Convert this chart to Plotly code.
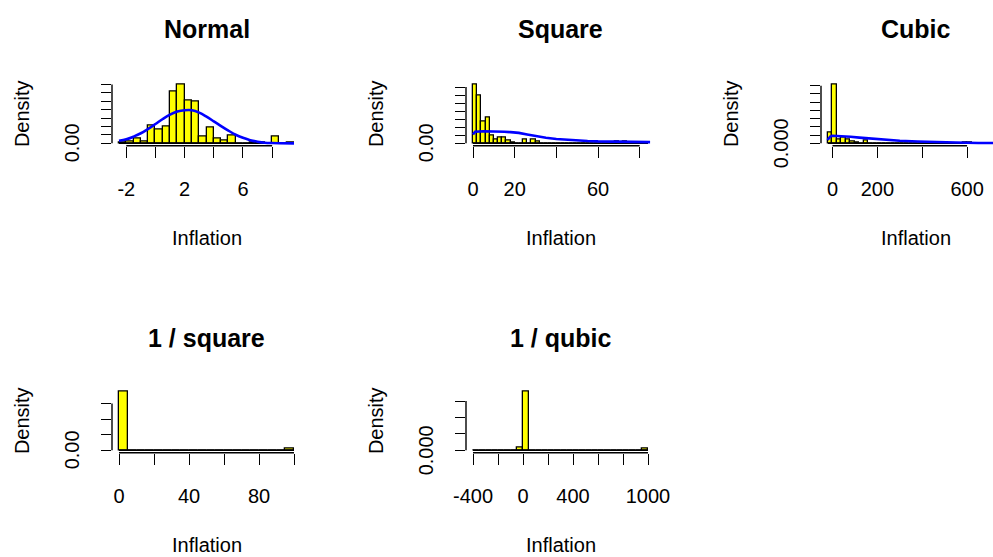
import plotly.graph_objects as go

W, H = 993, 557
FONT = "Liberation Sans, Arial, Helvetica, sans-serif"

# ---------------- data ----------------
normal_breaks = [-2.5, -2.0, -1.5, -1.0, -0.5, 0.0, 0.5, 1.0, 1.5, 2.0, 2.5, 3.0, 3.5,
                 4.0, 4.5, 5.0, 5.5, 6.0, 6.5, 7.0, 7.5, 8.0, 8.5, 9.0, 9.5]
normal_density = [0.005, 0.010, 0.030, 0.010, 0.105, 0.081, 0.101, 0.307, 0.348, 0.257,
                  0.247, 0.040, 0.095, 0.030, 0.020, 0.049, 0.0, 0.0, 0.006, 0.003,
                  0.0, 0.042, 0.0, 0.003]
normal_curve_x = [-2.5, -2, -1.5, -1, -0.5, 0, 0.5, 1, 1.5, 2, 2.5, 3, 3.5, 4, 4.5, 5,
                  5.5, 6, 6.5, 7, 7.5, 8, 8.5, 9.5]
normal_curve_y = [0.016, 0.024, 0.040, 0.060, 0.086, 0.115, 0.145, 0.171, 0.189, 0.197,
                  0.197, 0.183, 0.159, 0.131, 0.103, 0.076, 0.051, 0.033, 0.019, 0.010,
                  0.004, 0.002, 0.001, 0.0]
normal_xticks = [-2, 0, 2, 4, 6, 8]
normal_xlabels = ["-2", "", "2", "", "6", ""]
normal_yticks = [0, 0.05, 0.10, 0.15, 0.20, 0.25, 0.30, 0.35]

square_breaks = [0, 2, 4, 6, 8, 10, 12, 14, 16, 18, 20, 22, 24, 26, 28, 30, 32, 34, 36, 38,
                 40, 42, 44, 46, 48, 50, 52, 54, 56, 58, 60, 62, 64, 66, 68, 70, 72, 74,
                 76, 78, 80, 82, 84]
square_density = [0.1456, 0.1195, 0.0546, 0.0644, 0.0205, 0.0098, 0.0154, 0.0154, 0.0073, 0.0032,
                  0, 0, 0.0100, 0, 0.0100, 0.0040, 0, 0, 0, 0,
                  0, 0, 0, 0, 0, 0, 0, 0, 0, 0,
                  0, 0, 0, 0, 0.0050, 0, 0.0050, 0, 0, 0,
                  0, 0.0020]
square_curve_x = [0, 1, 5, 10, 15, 18, 22, 26, 30, 35, 40, 45, 50, 55, 60, 70, 80, 85]
square_curve_y = [0.022, 0.029, 0.030, 0.030, 0.029, 0.028, 0.026, 0.022, 0.018, 0.014,
                  0.011, 0.009, 0.008, 0.006, 0.005, 0.004, 0.0035, 0.003]
square_xticks = [0, 20, 40, 60, 80]
square_xlabels = ["0", "20", "", "60", ""]
square_yticks = [0, 0.02, 0.04, 0.06, 0.08, 0.10, 0.12, 0.14]

cubic_breaks = [-20, 0, 20, 40, 60, 80, 100, 120, 140, 160, 180, 200, 220, 240, 260, 280,
                300, 320, 340, 360, 380, 400, 420, 440, 460, 480, 500, 520, 540, 560, 580,
                600, 620, 640, 660, 680, 700, 720, 740, 760]
cubic_density = [0.0052, 0.0284, 0.0020, 0.0028, 0.0020, 0.0008, 0.0003, 0, 0.0016, 0,
                 0, 0, 0, 0, 0, 0, 0, 0, 0, 0,
                 0, 0, 0, 0, 0, 0, 0, 0, 0, 0,
                 0.0005, 0.0005, 0, 0, 0, 0, 0, 0, 0.0002]
cubic_curve_x = [-22, -10, 0, 40, 80, 120, 170, 240, 300, 380, 450, 550, 650, 770]
cubic_curve_y = [0.0016, 0.0033, 0.0037, 0.0036, 0.0032, 0.0028, 0.0023, 0.0018, 0.0013,
                 0.0009, 0.0006, 0.0004, 0.0002, 0.0001]
cubic_xticks = [0, 200, 400, 600]
cubic_xlabels = ["0", "200", "", "600"]
cubic_yticks = [0, 0.004, 0.008, 0.012, 0.016, 0.020, 0.024, 0.028]

invsq_breaks = [0, 5, 10, 15, 20, 25, 30, 35, 40, 45, 50, 55, 60, 65, 70, 75, 80, 85, 90, 95, 100]
invsq_density = [0.187, 0, 0, 0, 0, 0, 0, 0, 0, 0, 0, 0, 0, 0, 0, 0, 0, 0, 0, 0.0074]
invsq_xticks = [0, 20, 40, 60, 80, 100]
invsq_xlabels = ["0", "", "40", "", "80", ""]
invsq_yticks = [0, 0.05, 0.10, 0.15]

invcu_breaks = [-400, -350, -300, -250, -200, -150, -100, -50, 0, 50, 100, 150, 200, 250,
                300, 350, 400, 450, 500, 550, 600, 650, 700, 750, 800, 850, 900, 950, 1000]
invcu_density = [0, 0, 0, 0, 0, 0, 0, 0.0010, 0.0178, 0,
                 0, 0, 0, 0, 0, 0, 0, 0, 0, 0,
                 0, 0, 0, 0, 0, 0, 0, 0.0007]
invcu_xticks = [-400, -200, 0, 200, 400, 600, 800, 1000]
invcu_xlabels = ["-400", "", "0", "", "400", "", "", "1000"]
invcu_yticks = [0, 0.005, 0.010, 0.015]

titles = ["Normal", "Square", "Cubic", "1 / square", "1 / qubic"]
zero_labels = ["0.00", "0.00", "0.000", "0.00", "0.000"]
x_title = "Inflation"
y_title = "Density"

# ---------------- layout geometry (pixels) ----------------
col_left = [112, 466, 821]
row_top = [82.5, 389.5]
plot_w, plot_h = 189.0, 63.2
title_y = [29, 338]
xlab_y = [238.5, 545]

panels = [
    dict(row=0, col=0, b=normal_breaks, d=normal_density, cx=normal_curve_x, cy=normal_curve_y,
         xt=normal_xticks, xl=normal_xlabels, yt=normal_yticks, spline=True),
    dict(row=0, col=1, b=square_breaks, d=square_density, cx=square_curve_x, cy=square_curve_y,
         xt=square_xticks, xl=square_xlabels, yt=square_yticks, spline=False),
    dict(row=0, col=2, b=cubic_breaks, d=cubic_density, cx=cubic_curve_x, cy=cubic_curve_y,
         xt=cubic_xticks, xl=cubic_xlabels, yt=cubic_yticks, spline=False),
    dict(row=1, col=0, b=invsq_breaks, d=invsq_density, cx=None, cy=None,
         xt=invsq_xticks, xl=invsq_xlabels, yt=invsq_yticks, spline=False),
    dict(row=1, col=1, b=invcu_breaks, d=invcu_density, cx=None, cy=None,
         xt=invcu_xticks, xl=invcu_xlabels, yt=invcu_yticks, spline=False),
]

fig = go.Figure()
layout = {}
shapes = []
annotations = []

for i, p in enumerate(panels):
    n = i + 1
    xa = "x" if n == 1 else f"x{n}"
    ya = "y" if n == 1 else f"y{n}"
    xkey = "xaxis" if n == 1 else f"xaxis{n}"
    ykey = "yaxis" if n == 1 else f"yaxis{n}"
    b = p["b"]
    centers = [(b[k] + b[k + 1]) / 2 for k in range(len(b) - 1)]
    widths = [b[k + 1] - b[k] for k in range(len(b) - 1)]

    fig.add_trace(go.Bar(x=centers, y=p["d"], width=widths, xaxis=xa, yaxis=ya,
                         marker=dict(color="#FFFF00", line=dict(color="black", width=1.3)),
                         showlegend=False, hoverinfo="skip"))
    fig.add_trace(go.Scatter(x=[b[0], b[-1]], y=[0, 0], mode="lines", xaxis=xa, yaxis=ya,
                             line=dict(color="black", width=1.5),
                             showlegend=False, hoverinfo="skip"))
    if p["cx"]:
        fig.add_trace(go.Scatter(x=p["cx"], y=p["cy"], mode="lines", xaxis=xa, yaxis=ya,
                                 line=dict(color="#0000FF", width=2.6,
                                           shape="spline" if p["spline"] else "linear"),
                                 showlegend=False, hoverinfo="skip"))

    span = b[-1] - b[0]
    xr0, xr1 = b[0] - 0.04 * span, b[-1] + 0.04 * span
    left = col_left[p["col"]]
    right = left + plot_w
    if right > W:
        xr1 = xr0 + (W - left) / plot_w * (xr1 - xr0)
        right = W
    ymax = max(p["d"])
    yr = [-0.04 * ymax, 1.04 * ymax]
    top = row_top[p["row"]]
    bottom = top + plot_h

    layout[xkey] = dict(domain=[left / W, right / W], range=[xr0, xr1], anchor=ya,
                        tickmode="array", tickvals=p["xt"], ticktext=p["xl"],
                        ticks="outside", ticklen=11, tickwidth=1.3, tickcolor="black",
                        showline=False, showgrid=False, zeroline=False, automargin=False,
                        tickfont=dict(size=20, family=FONT, color="black"),
                        ticklabelstandoff=14, fixedrange=True)
    layout[ykey] = dict(domain=[1 - bottom / H, 1 - top / H], range=yr, anchor=xa,
                        tickmode="array", tickvals=p["yt"], showticklabels=False,
                        ticks="outside", ticklen=10, tickwidth=1.3, tickcolor="black",
                        showline=False, showgrid=False, zeroline=False, automargin=False,
                        fixedrange=True)

    # axis lines from first to last tick (base-R style)
    shapes.append(dict(type="line", xref=xa, yref=f"{ya} domain", x0=p["xt"][0], x1=p["xt"][-1],
                       y0=0, y1=0, line=dict(color="black", width=1.4), layer="above"))
    shapes.append(dict(type="line", xref=f"{xa} domain", yref=ya, x0=0, x1=0,
                       y0=p["yt"][0], y1=p["yt"][-1], line=dict(color="black", width=1.4),
                       layer="above"))

    cxp = left + plot_w / 2
    annotations.append(dict(text=titles[i], x=cxp / W, y=1 - title_y[p["row"]] / H,
                            xref="paper", yref="paper", xanchor="center", yanchor="middle",
                            showarrow=False,
                            font=dict(size=25, family=FONT, color="black", weight="bold")))
    annotations.append(dict(text=x_title, x=cxp / W, y=1 - xlab_y[p["row"]] / H,
                            xref="paper", yref="paper", xanchor="center", yanchor="middle",
                            showarrow=False, font=dict(size=20, family=FONT, color="black")))
    annotations.append(dict(text=y_title, x=(left - 90) / W, y=1 - (top + plot_h / 2) / H,
                            xref="paper", yref="paper", xanchor="center", yanchor="middle",
                            textangle=-90, showarrow=False,
                            font=dict(size=20, family=FONT, color="black")))
    annotations.append(dict(text=zero_labels[i], x=(left - 40) / W, y=0,
                            xref="paper", yref=ya, xanchor="center", yanchor="middle",
                            textangle=-90, showarrow=False,
                            font=dict(size=20, family=FONT, color="black")))

fig.update_layout(width=W, height=H, margin=dict(l=0, r=0, t=0, b=0, pad=0, autoexpand=False),
                  paper_bgcolor="white", plot_bgcolor="white",
                  showlegend=False, bargap=0, shapes=shapes, annotations=annotations,
                  **layout)

fig.write_html("out.html")
